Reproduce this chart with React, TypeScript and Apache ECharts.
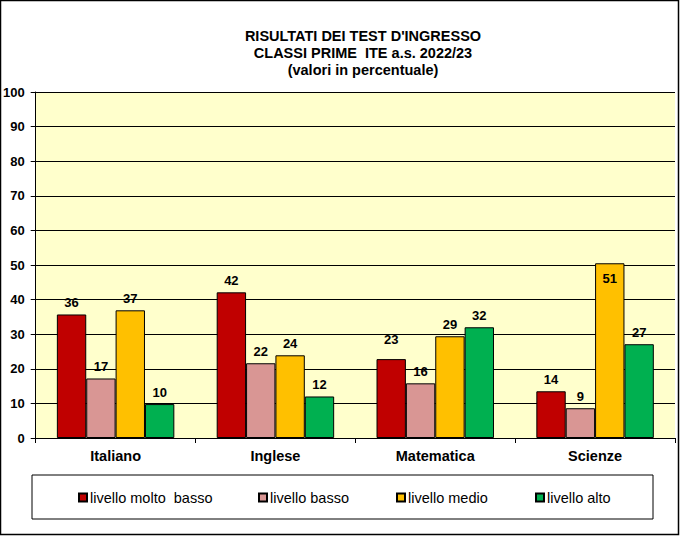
import { useEffect, useRef } from 'react';
import * as echarts from 'echarts';

const subjects = ['Italiano', 'Inglese', 'Matematica', 'Scienze'];
const seriesNames = ['livello molto  basso', 'livello basso', 'livello medio', 'livello alto'];
const moltoBasso = [35.7, 42.1, 22.8, 13.5];
const basso = [17.2, 21.6, 15.8, 8.6];
const medio = [36.9, 23.9, 29.4, 50.5];
const alto = [9.8, 12.0, 32.0, 27.1];
const yTicks = [0, 10, 20, 30, 40, 50, 60, 70, 80, 90, 100];

const colors = ['#C00000', '#D99694', '#FFC000', '#00B050'];
const FONT = "'Liberation Sans', Arial, sans-serif";

// Excel-style labels moved by hand in the original: [seriesIndex, dataIndex] -> label override
const labelTweaks: Record<string, object> = {
  '0-2': { offset: [0, -8] },
  '2-3': { position: 'insideTop', distance: 9 },
};

export default function App() {
  const el = useRef<HTMLDivElement>(null);

  useEffect(() => {
    if (!el.current) return;
    const chart = echarts.init(el.current, undefined, { renderer: 'svg' });
    const all = [moltoBasso, basso, medio, alto];
    const legendLeft = [78, 258, 396, 535];

    chart.setOption({
      animation: false,
      textStyle: { fontFamily: FONT },
      title: {
        text: "RISULTATI DEI TEST D'INGRESSO\nCLASSI PRIME  ITE a.s. 2022/23\n(valori in percentuale)",
        left: 358,
        top: 22,
        textAlign: 'center',
        textStyle: { fontFamily: FONT, fontSize: 14.5, fontWeight: 'bold', color: '#000', lineHeight: 17 },
      },
      legend: seriesNames.map((name, i) => ({
        data: [name],
        left: legendLeft[i],
        top: 490,
        icon: 'rect',
        itemWidth: 8,
        itemHeight: 8,
        padding: 0,
        textStyle: { fontFamily: FONT, fontSize: 14.5, color: '#000', padding: [0, 0, 0, -2] },
      })),
      graphic: [
        {
          type: 'rect',
          shape: { x: 0.5, y: 0.5, width: 678, height: 534 },
          style: { fill: 'none', stroke: '#000', lineWidth: 1.5 },
          silent: true,
          z: -1,
        },
        {
          type: 'rect',
          shape: { x: 32, y: 475, width: 621, height: 44 },
          style: { fill: '#fff', stroke: '#000', lineWidth: 1 },
          silent: true,
          z: -1,
        },
      ],
      grid: {
        left: 35,
        right: 5,
        top: 92,
        bottom: 98,
        show: true,
        backgroundColor: '#FFFFCC',
        borderWidth: 0,
      },
      xAxis: {
        type: 'category',
        data: subjects,
        axisLine: { lineStyle: { color: '#000', width: 1 } },
        axisTick: { show: true, length: 5, lineStyle: { color: '#000' } },
        axisLabel: { color: '#000', fontFamily: FONT, fontSize: 14.5, fontWeight: 'bold', margin: 10 },
      },
      yAxis: {
        type: 'value',
        min: yTicks[0],
        max: yTicks[yTicks.length - 1],
        interval: 10,
        axisLine: { show: true, lineStyle: { color: '#000', width: 1 } },
        axisTick: { show: true, length: 5, lineStyle: { color: '#000' } },
        axisLabel: { color: '#000', fontFamily: FONT, fontSize: 13, fontWeight: 'bold', margin: 11 },
        splitLine: { lineStyle: { color: '#000', width: 1 } },
      },
      series: seriesNames.map((name, si) => ({
        name,
        type: 'bar',
        barGap: '0%',
        barCategoryGap: '26.5%',
        itemStyle: { color: colors[si], borderColor: '#000', borderWidth: 1 },
        label: {
          show: true,
          position: 'top',
          distance: 5,
          color: '#000',
          fontFamily: FONT,
          fontSize: 13,
          fontWeight: 'bold',
          formatter: (p: { value: number }) => String(Math.round(p.value)),
        },
        data: all[si].map((v, di) => {
          const tweak = labelTweaks[`${si}-${di}`];
          return tweak ? { value: v, label: tweak } : v;
        }),
      })),
    } as echarts.EChartsOption);

    return () => chart.dispose();
  }, []);

  return <div ref={el} style={{ position: 'fixed', left: 0, top: 0, width: 680, height: 536, background: '#fff' }} />;
}
